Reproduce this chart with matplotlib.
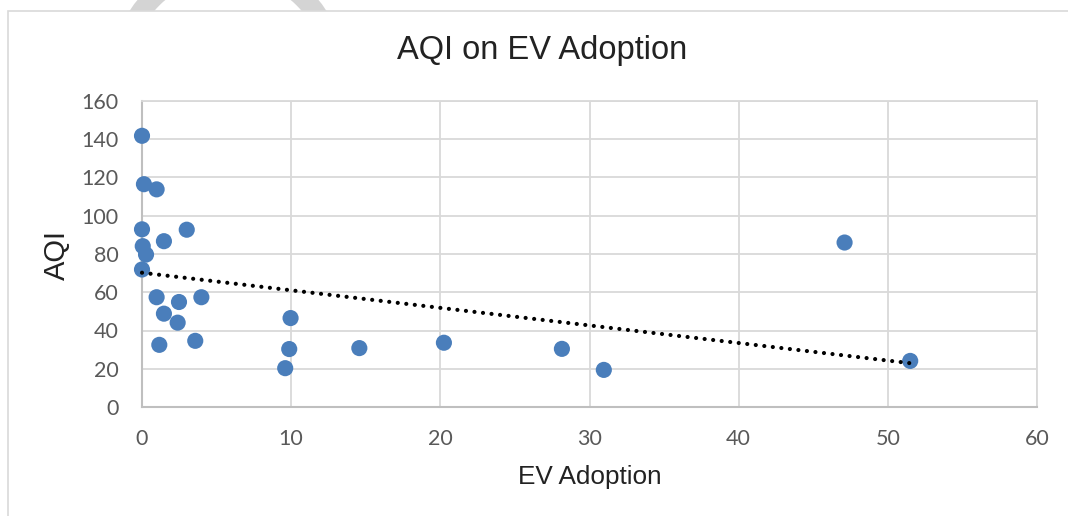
import numpy as np
import matplotlib.pyplot as plt
from matplotlib.patches import Rectangle, Wedge

# EV adoption (%) vs AQI per region
ev_adoption = [0.0, 0.13, 0.98, 0.0, 3.0, 0.05, 1.47, 0.27, 0.0, 0.98, 2.48, 3.98,
               1.47, 2.39, 1.16, 3.57, 9.96, 9.87, 9.6, 14.57, 20.24, 28.15, 30.96,
               47.1, 51.5]
aqi = [141.8, 116.5, 113.8, 92.9, 92.7, 84.1, 86.7, 79.7, 71.9, 57.4, 54.9, 57.4,
       48.8, 44.1, 32.5, 34.6, 46.5, 30.3, 20.3, 30.8, 33.6, 30.4, 19.4, 86.0, 24.1]

x_ticks = [0, 10, 20, 30, 40, 50, 60]
y_ticks = [0, 20, 40, 60, 80, 100, 120, 140, 160]

W, H = 1068, 516
fig = plt.figure(figsize=(W / 100, H / 100), dpi=100)
fig.patch.set_facecolor('white')

# faint ring peeking out above the chart box
fig.patches.append(Wedge((228 / 100, (H - 74) / 100), 117 / 100, 0, 360, width=20 / 100,
                         transform=fig.dpi_scale_trans, facecolor='#d4d4d4',
                         edgecolor='none', zorder=0))

# chart box
fig.patches.append(Rectangle((8 / W, -0.1), 1.2, 1.1 - 11 / H, transform=fig.transFigure,
                             facecolor='white', edgecolor='#d9d9d9', linewidth=1.2, zorder=1))

ax = fig.add_axes([142 / W, (H - 407) / H, (1037 - 142) / W, (407 - 101) / H])
ax.set_zorder(2)
ax.set_facecolor('white')

ax.scatter(ev_adoption, aqi, s=135, color='#4a7ebb', edgecolors='none', zorder=3,
           clip_on=False)

# linear trend line across the data range
slope, intercept = np.polyfit(ev_adoption, aqi, 1)
xs = np.array([min(ev_adoption), max(ev_adoption)])
ax.plot(xs, slope * xs + intercept, color='black', linewidth=3,
        linestyle=(0, (0.01, 2.05)), dash_capstyle='round', zorder=4, clip_on=False)

ax.set_xlim(0, 60)
ax.set_ylim(0, 160)
ax.set_xticks(x_ticks)
ax.set_yticks(y_ticks)
ax.grid(True, color='#d9d9d9', linewidth=1.3)
ax.set_axisbelow(True)
for side in ['top', 'right']:
    ax.spines[side].set_color('#d9d9d9')
    ax.spines[side].set_linewidth(1.3)
for side in ['left', 'bottom']:
    ax.spines[side].set_color('#bfbfbf')
    ax.spines[side].set_linewidth(1.5)
ax.tick_params(length=0, labelsize=15.5, labelcolor='#595959')
ax.tick_params(axis='y', pad=17)
ax.tick_params(axis='x', pad=16)
for lbl in ax.get_xticklabels() + ax.get_yticklabels():
    lbl.set_family('Lato')

fig.text(542 / W, 1 - 50 / H, 'AQI on EV Adoption', ha='center', va='center',
         fontsize=23.5, family='Liberation Sans', color='#222222')
fig.text(590 / W, 1 - 477 / H, 'EV Adoption', ha='center', va='center',
         fontsize=18.8, family='Liberation Sans', color='#222222')
fig.text(57 / W, 1 - 255 / H, 'AQI', ha='center', va='center', rotation=90,
         fontsize=21, family='Liberation Sans', color='#222222')

fig.savefig('out.png', dpi=100)
